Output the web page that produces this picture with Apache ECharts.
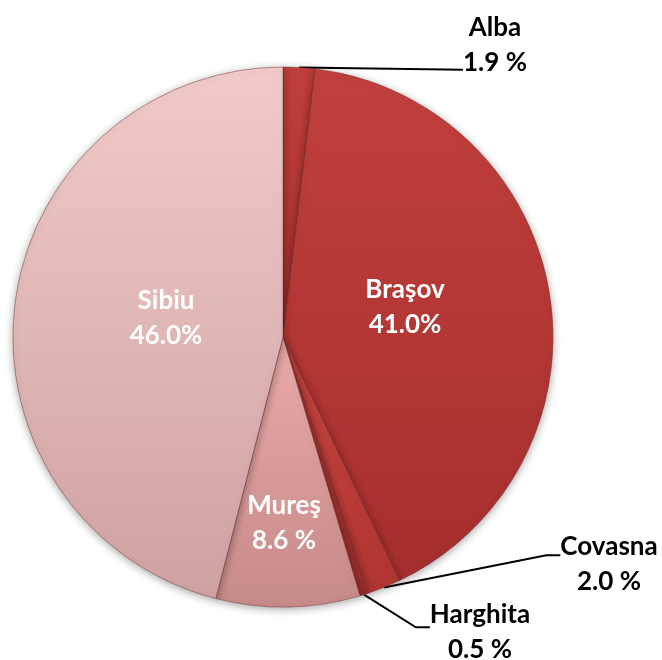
<!DOCTYPE html>
<html><head><meta charset="utf-8">
<script src="https://cdn.jsdelivr.net/npm/echarts@6/dist/echarts.min.js"></script>
<style>html,body{margin:0;padding:0;background:#fff}#c{width:662px;height:660px}</style>
</head><body><div id="c"></div>
<script>
// Data
const counties = ['Alba', 'Braşov', 'Covasna', 'Harghita', 'Mureş', 'Sibiu'];
const shares = [1.9, 41.0, 2.0, 0.5, 8.6, 46.0];
const shareLabels = ['1.9 %', '41.0%', '2.0 %', '0.5 %', '8.6 %', '46.0%'];

// Styling (not data)
const sliceColors = [
  ['#c03f3c', '#a62f2d'],
  ['#c2403d', '#a52f2e'],
  ['#c9453f', '#b03532'],
  ['#b03936', '#9c2c2a'],
  ['#eaaaa9', '#c68a89'],
  ['#f1cac9', '#cfa2a2']
];
const outside = [true, false, true, true, false, false];
// gapPos: where an invisible spacer line sits (sets where the leader line meets the text)
const labelPlace = [
  {x: 495, y: 69.75, gap: 48.5, gapPos: 'bottom', len2: 0},
  {x: 405, y: 307},
  {x: 609, y: 555.25, gap: 18.5, gapPos: 'top', len2: 14},
  {x: 480, y: 627.25, gap: 10.5, gapPos: 'top', len2: 14},
  {x: 284, y: 523},
  {x: 166, y: 318}
];

const chart = echarts.init(document.getElementById('c'), null, {renderer: 'canvas'});
const data = counties.map((name, i) => {
  const item = {
    name: name,
    value: shares[i],
    itemStyle: {
      color: new echarts.graphic.LinearGradient(0, 0, 0, 1, [
        {offset: 0, color: sliceColors[i][0]},
        {offset: 1, color: sliceColors[i][1]}
      ])
    }
  };
  if (outside[i]) {
    const L = labelPlace[i];
    const body = '{t|' + name + '}\n{t|' + shareLabels[i] + '}';
    item.label = {
      position: 'outside',
      formatter: L.gapPos === 'top' ? '{g| }\n' + body : body + '\n{g| }',
      rich: {
        t: {color: '#000', fontFamily: 'Lato', fontWeight: 'bold', fontSize: 26, lineHeight: 35, align: 'center'},
        g: {fontSize: 1, height: L.gap, lineHeight: L.gap, backgroundColor: 'rgba(0,0,0,0)', align: 'center'}
      }
    };
    item.labelLine = {
      show: true,
      length: 8,
      length2: L.len2,
      lineStyle: {color: '#000', width: 2}
    };
  } else {
    item.label = {
      position: 'inside',
      color: '#fff',
      formatter: name + '\n' + shareLabels[i]
    };
    item.labelLine = {show: false};
  }
  return item;
});

chart.setOption({
  animation: false,
  backgroundColor: '#fff',
  series: [{
    type: 'pie',
    center: [283, 337],
    radius: [0, 270],
    startAngle: 90,
    clockwise: true,
    avoidLabelOverlap: false,
    data: data,
    itemStyle: {
      borderColor: 'rgba(110,35,35,0.45)',
      borderWidth: 1,
      shadowBlur: 8,
      shadowColor: 'rgba(0,0,0,0.35)',
      shadowOffsetY: 2
    },
    label: {
      show: true,
      fontFamily: 'Lato',
      fontWeight: 'bold',
      fontSize: 26,
      lineHeight: 35,
      align: 'center'
    },
    labelLayout: p => ({
      x: labelPlace[p.dataIndex].x,
      y: labelPlace[p.dataIndex].y,
      align: 'center',
      verticalAlign: 'middle'
    })
  }]
});
</script>
</body></html>
